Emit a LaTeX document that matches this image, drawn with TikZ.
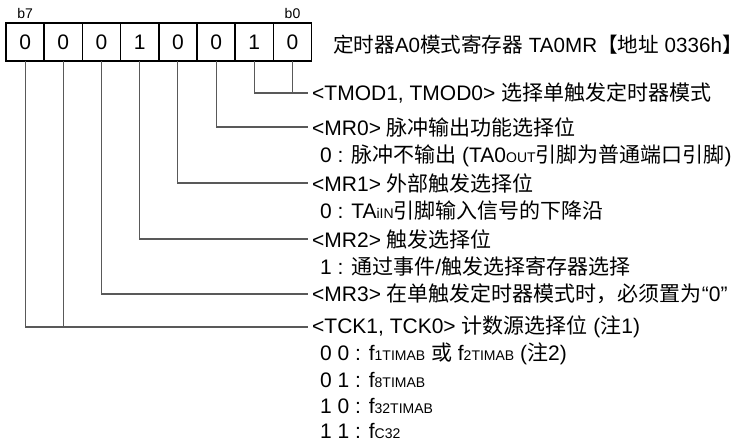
\documentclass[tikz,border=0pt]{standalone}
\usepackage{fontspec}
\setmainfont{Liberation Sans}
\newfontfamily\cjk{Noto Sans CJK SC}
\usepackage{tikz}
\usetikzlibrary{positioning}
\newcommand{\subtxt}[1]{{\fontsize{14}{14}\selectfont #1}}

\begin{document}
\begin{tikzpicture}[x=1pt, y=-1pt,
    bitcell/.style={rectangle, draw=black, line width=1.6pt, outer sep=0pt, inner sep=0pt, minimum width=38.2pt, minimum height=38pt, font=\fontsize{21}{25}\selectfont},
    bitlbl/.style={inner sep=0pt, font=\fontsize{14}{16}\selectfont},
    field/.style={anchor=west, inner sep=0pt, font=\fontsize{21}{25}\selectfont},
    wire/.style={draw=black!65, line width=1.1pt}
]
    \useasboundingbox (0,0) rectangle (750,445);

    % Register cells b7 ... b0
    \node[bitcell] (c7) at (25.1,42) {0};
    \node[bitcell, right=0pt of c7] (c6) {0};
    \node[bitcell, right=0pt of c6] (c5) {0};
    \node[bitcell, right=0pt of c5] (c4) {1};
    \node[bitcell, right=0pt of c4] (c3) {0};
    \node[bitcell, right=0pt of c3] (c2) {0};
    \node[bitcell, right=0pt of c2] (c1) {1};
    \node[bitcell, right=0pt of c1] (c0) {0};

    % Bit numbers
    \node[bitlbl, above=4pt of c7] {b7};
    \node[bitlbl, above=4pt of c0] {b0};

    % Register name
    \node[field, font=\fontsize{20.6}{24}\selectfont] (title) at (333,45) {{\cjk 定时器}A0{\cjk 模式寄存器} TA0MR{\cjk 【地址} 0336h{\cjk 】}};

    % Field descriptions
    \node[field] (tmod) at (312,93) {<TMOD1, TMOD0> {\cjk 选择单触发定时器模式}};
    \node[field] (mr0) at (312,127) {<MR0> {\cjk 脉冲输出功能选择位}};
    \node[field] (mr0v) at (320,156) {0 : {\cjk 脉冲不输出} (TA0\subtxt{OUT}{\cjk 引脚为普通端口引脚})};
    \node[field] (mr1) at (312,183) {<MR1> {\cjk 外部触发选择位}};
    \node[field] (mr1v) at (320,211) {0 : TA\subtxt{iIN}{\cjk 引脚输入信号的下降沿}};
    \node[field] (mr2) at (312,239) {<MR2> {\cjk 触发选择位}};
    \node[field] (mr2v) at (320,266) {1 : {\cjk 通过事件}/{\cjk 触发选择寄存器选择}};
    \node[field] (mr3) at (312,294) {<MR3> {\cjk 在单触发定时器模式时，必须置为}“0”};
    \node[field] (tck) at (312,327) {<TCK1, TCK0> {\cjk 计数源选择位} ({\cjk 注}1)};
    \node[field] (tck0) at (320,354) {0 0 : f\subtxt{1TIMAB} {\cjk 或} f\subtxt{2TIMAB} ({\cjk 注}2)};
    \node[field] (tck1) at (320,380) {0 1 : f\subtxt{8TIMAB}};
    \node[field] (tck2) at (320,406) {1 0 : f\subtxt{32TIMAB}};
    \node[field] (tck3) at (320,431) {1 1 : f\subtxt{C32}};

    % Connectors
    \draw[wire] (c1.south) |- ([xshift=-4pt]tmod.west);
    \draw[wire] (c0.south) -- (c0.south |- tmod.west);
    \draw[wire] (c2.south) |- ([xshift=-4pt]mr0.west);
    \draw[wire] (c3.south) |- ([xshift=-4pt]mr1.west);
    \draw[wire] (c4.south) |- ([xshift=-4pt]mr2.west);
    \draw[wire] (c5.south) |- ([xshift=-4pt]mr3.west);
    \draw[wire] (c7.south) |- ([xshift=-4pt]tck.west);
    \draw[wire] (c6.south) -- (c6.south |- tck.west);
\end{tikzpicture}
\end{document}
